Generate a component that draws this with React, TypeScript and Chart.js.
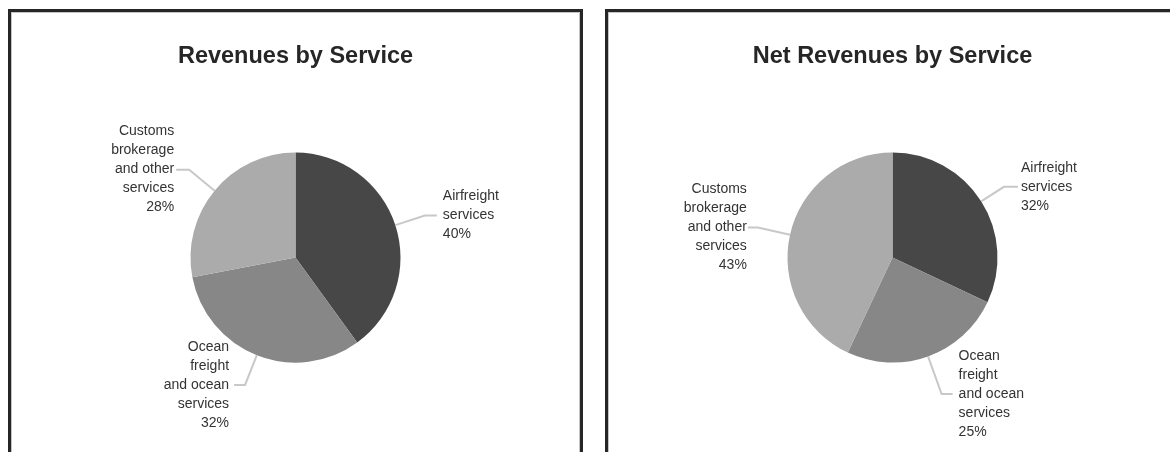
import React, { useEffect, useRef } from "react";
import { Chart, registerables } from "chart.js";

Chart.register(...registerables);

// ---- data ----
const serviceLabels: string[][] = [
  ["Airfreight", "services"],
  ["Ocean", "freight", "and ocean", "services"],
  ["Customs", "brokerage", "and other", "services"],
];
const revenueValues = [40, 32, 28];
const netRevenueValues = [32, 25, 43];
const sliceColors = ["#474747", "#878787", "#ababab"];

const revenueTitle = "Revenues by Service";
const netRevenueTitle = "Net Revenues by Service";

const FONT = "'Liberation Sans', Arial, Helvetica, sans-serif";

const leaderPlugin = {
  id: "leaderLabels",
  afterDatasetsDraw(chart: any) {
    const opts = chart.options.plugins.leaderLabels || {};
    const ext: number[] = opts.ext || [];
    const hLen: number[] = opts.hLen || [];
    const gap: number[] = opts.gap || [];
    const meta = chart.getDatasetMeta(0);
    const ds = chart.data.datasets[0];
    const values: number[] = ds.data as number[];
    const total = values.reduce((a, b) => a + b, 0);
    const labels: string[][] = chart.data.labels as any;
    const ctx: CanvasRenderingContext2D = chart.ctx;
    ctx.save();
    meta.data.forEach((arc: any, i: number) => {
      const p = arc.getProps(["x", "y", "startAngle", "endAngle", "outerRadius"], true);
      const mid = (p.startAngle + p.endAngle) / 2;
      const dx = Math.cos(mid);
      const dy = Math.sin(mid);
      const r = p.outerRadius;
      const e = ext[i] ?? 32;
      const sx = p.x + dx * r;
      const sy = p.y + dy * r;
      const ex = p.x + dx * (r + e);
      const ey = p.y + dy * (r + e);
      const right = dx >= 0;
      const hl = hLen[i] ?? 12;
      const hx = ex + (right ? hl : -hl);
      ctx.strokeStyle = "#c8c8c8";
      ctx.lineWidth = 2;
      ctx.beginPath();
      ctx.moveTo(sx, sy);
      ctx.lineTo(ex, ey);
      ctx.lineTo(hx, ey);
      ctx.stroke();

      const pct = Math.round((values[i] / total) * 100) + "%";
      const lines = [...labels[i], pct];
      const lh = 19;
      ctx.fillStyle = "#333333";
      ctx.font = `14px ${FONT}`;
      ctx.textBaseline = "middle";
      ctx.textAlign = right ? "left" : "right";
      const g = gap[i] ?? 16;
      const tx = right ? ex + g : ex - g;
      lines.forEach((ln, k) => {
        const ly = ey + (k - (lines.length - 1) / 2) * lh;
        ctx.fillText(ln, tx, ly);
      });
    });
    ctx.restore();
  },
};

function PiePanel(props: {
  left: number;
  title: string;
  values: number[];
  ext: number[];
  hLen: number[];
  gap: number[];
}) {
  const ref = useRef<HTMLCanvasElement | null>(null);
  useEffect(() => {
    if (!ref.current) return;
    const chart = new Chart(ref.current, {
      type: "pie",
      data: {
        labels: serviceLabels as any,
        datasets: [
          {
            data: props.values,
            backgroundColor: sliceColors,
            borderWidth: 0,
            radius: 105,
          } as any,
        ],
      },
      options: {
        responsive: false,
        animation: false,
        events: [],
        layout: { padding: { top: 0, bottom: 17, left: 0, right: 0 } },
        plugins: {
          legend: { display: false },
          tooltip: { enabled: false },
          title: {
            display: true,
            text: props.title,
            color: "#262626",
            font: { family: FONT, size: 23.5, weight: "bold" },
            padding: { top: 30, bottom: 10 },
          },
          leaderLabels: { ext: props.ext, hLen: props.hLen, gap: props.gap },
        } as any,
      },
      plugins: [leaderPlugin],
    });
    return () => chart.destroy();
  }, []);
  return (
    <div
      style={{
        position: "absolute",
        left: props.left,
        top: 9,
        width: 575,
        height: 470,
        boxSizing: "border-box",
        border: "3px solid #262626",
        boxShadow: "inset 1px 1px 0 #c4c4c4, inset -1px 0 0 #c4c4c4",
        background: "#fff",
      }}
    >
      <canvas ref={ref} width={569} height={440} style={{ display: "block" }} />
    </div>
  );
}

export default function App() {
  return (
    <div
      style={{
        position: "fixed",
        left: 0,
        top: 0,
        width: 1170,
        height: 452,
        overflow: "hidden",
        background: "#ffffff",
      }}
    >
      <PiePanel
        left={8}
        title={revenueTitle}
        values={revenueValues}
        ext={[31, 32, 33]}
        hLen={[12, 11, 13]}
        gap={[18, 16, 15]}
      />
      <PiePanel
        left={605}
        title={netRevenueTitle}
        values={netRevenueValues}
        ext={[27, 40, 33]}
        hLen={[14, 11, 10]}
        gap={[17, 17, 11]}
      />
    </div>
  );
}
